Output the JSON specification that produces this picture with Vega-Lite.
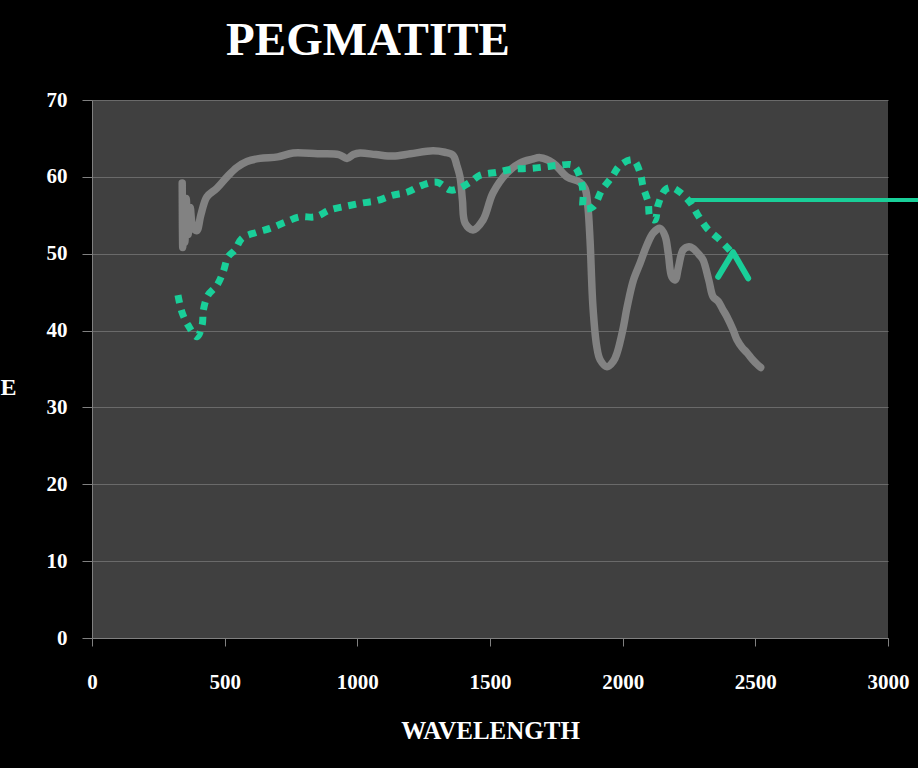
{
  "$schema": "https://vega.github.io/schema/vega-lite/v6.json",
  "width": 796,
  "height": 538,
  "autosize": {"type": "none"},
  "padding": {"left": 92, "top": 100, "right": 30, "bottom": 130},
  "background": "#000000",
  "config": {
    "view": {"fill": "#404040", "stroke": null}
  },
  "title": {
    "text": "PEGMATITE",
    "font": "Liberation Serif",
    "fontSize": 47,
    "fontWeight": "bold",
    "color": "#ffffff",
    "anchor": "middle",
    "dx": -122,
    "offset": 24
  },
  "datasets": {
    "spectrum": [
      {"i": 1, "wl": 340, "r": 59.2}, {"i": 2, "wl": 342, "r": 50.8}, {"i": 3, "wl": 345, "r": 57},
      {"i": 4, "wl": 350, "r": 51.5}, {"i": 5, "wl": 355, "r": 57.2}, {"i": 6, "wl": 362, "r": 52.5},
      {"i": 7, "wl": 370, "r": 56}, {"i": 8, "wl": 380, "r": 53.5}, {"i": 9, "wl": 395, "r": 53},
      {"i": 10, "wl": 410, "r": 55}, {"i": 11, "wl": 433, "r": 57.4}, {"i": 12, "wl": 470, "r": 58.5},
      {"i": 13, "wl": 509, "r": 60}, {"i": 14, "wl": 545, "r": 61.2}, {"i": 15, "wl": 584, "r": 62},
      {"i": 16, "wl": 633, "r": 62.4}, {"i": 17, "wl": 700, "r": 62.6}, {"i": 18, "wl": 758, "r": 63.1},
      {"i": 19, "wl": 850, "r": 63}, {"i": 20, "wl": 930, "r": 62.9}, {"i": 21, "wl": 961, "r": 62.4},
      {"i": 22, "wl": 985, "r": 62.9}, {"i": 23, "wl": 1010, "r": 63.1}, {"i": 24, "wl": 1070, "r": 62.9},
      {"i": 25, "wl": 1135, "r": 62.7}, {"i": 26, "wl": 1200, "r": 63}, {"i": 27, "wl": 1285, "r": 63.4},
      {"i": 28, "wl": 1330, "r": 63.2}, {"i": 29, "wl": 1361, "r": 62.8}, {"i": 30, "wl": 1375, "r": 61.5},
      {"i": 31, "wl": 1387, "r": 60}, {"i": 32, "wl": 1396, "r": 57}, {"i": 33, "wl": 1406, "r": 54},
      {"i": 34, "wl": 1436, "r": 53.1}, {"i": 35, "wl": 1474, "r": 54.4}, {"i": 36, "wl": 1511, "r": 57.9},
      {"i": 37, "wl": 1564, "r": 60.5}, {"i": 38, "wl": 1613, "r": 61.8}, {"i": 39, "wl": 1660, "r": 62.3},
      {"i": 40, "wl": 1689, "r": 62.5}, {"i": 41, "wl": 1738, "r": 61.8}, {"i": 42, "wl": 1790, "r": 60},
      {"i": 43, "wl": 1839, "r": 59.3}, {"i": 44, "wl": 1858, "r": 58.5}, {"i": 45, "wl": 1868, "r": 56.5},
      {"i": 46, "wl": 1877, "r": 51.8}, {"i": 47, "wl": 1888, "r": 43.1}, {"i": 48, "wl": 1902, "r": 38},
      {"i": 49, "wl": 1915, "r": 36.2}, {"i": 50, "wl": 1941, "r": 35.3}, {"i": 51, "wl": 1965, "r": 36},
      {"i": 52, "wl": 1979, "r": 37.1}, {"i": 53, "wl": 2000, "r": 40}, {"i": 54, "wl": 2017, "r": 43.1},
      {"i": 55, "wl": 2040, "r": 46.5}, {"i": 56, "wl": 2066, "r": 48.8}, {"i": 57, "wl": 2090, "r": 51},
      {"i": 58, "wl": 2115, "r": 52.7}, {"i": 59, "wl": 2141, "r": 53.3}, {"i": 60, "wl": 2160, "r": 52.3},
      {"i": 61, "wl": 2172, "r": 50}, {"i": 62, "wl": 2185, "r": 47}, {"i": 63, "wl": 2198, "r": 46.6},
      {"i": 64, "wl": 2210, "r": 48.2}, {"i": 65, "wl": 2228, "r": 50.5}, {"i": 66, "wl": 2250, "r": 50.9},
      {"i": 67, "wl": 2265, "r": 50.7}, {"i": 68, "wl": 2290, "r": 49.8}, {"i": 69, "wl": 2303, "r": 49.2},
      {"i": 70, "wl": 2325, "r": 46.5}, {"i": 71, "wl": 2341, "r": 44.4}, {"i": 72, "wl": 2360, "r": 43.8},
      {"i": 73, "wl": 2378, "r": 42.7}, {"i": 74, "wl": 2393, "r": 41.8}, {"i": 75, "wl": 2416, "r": 40.1},
      {"i": 76, "wl": 2431, "r": 38.8}, {"i": 77, "wl": 2450, "r": 37.8}, {"i": 78, "wl": 2469, "r": 37.1},
      {"i": 79, "wl": 2490, "r": 36.2}, {"i": 80, "wl": 2507, "r": 35.6}, {"i": 81, "wl": 2520, "r": 35.2}
    ],
    "sketch": [
      {"i": 1, "wl": 324, "r": 44.6}, {"i": 2, "wl": 339, "r": 42.4}, {"i": 3, "wl": 362, "r": 40.7},
      {"i": 4, "wl": 396, "r": 39.2}, {"i": 5, "wl": 415, "r": 40.7}, {"i": 6, "wl": 420, "r": 42.7},
      {"i": 7, "wl": 437, "r": 44.6}, {"i": 8, "wl": 471, "r": 45.9}, {"i": 9, "wl": 494, "r": 47.6},
      {"i": 10, "wl": 513, "r": 49.6}, {"i": 11, "wl": 539, "r": 50.5}, {"i": 12, "wl": 565, "r": 52},
      {"i": 13, "wl": 622, "r": 52.8}, {"i": 14, "wl": 671, "r": 53.3}, {"i": 15, "wl": 728, "r": 54.1},
      {"i": 16, "wl": 784, "r": 54.8}, {"i": 17, "wl": 841, "r": 54.8}, {"i": 18, "wl": 897, "r": 55.7},
      {"i": 19, "wl": 961, "r": 56.2}, {"i": 20, "wl": 1018, "r": 56.6}, {"i": 21, "wl": 1074, "r": 56.9},
      {"i": 22, "wl": 1131, "r": 57.6}, {"i": 23, "wl": 1187, "r": 58}, {"i": 24, "wl": 1244, "r": 58.9},
      {"i": 25, "wl": 1300, "r": 59.3}, {"i": 26, "wl": 1349, "r": 58.3}, {"i": 27, "wl": 1376, "r": 58.4},
      {"i": 28, "wl": 1425, "r": 59.3}, {"i": 29, "wl": 1462, "r": 60.2}, {"i": 30, "wl": 1527, "r": 60.6},
      {"i": 31, "wl": 1587, "r": 61}, {"i": 32, "wl": 1651, "r": 61.1}, {"i": 33, "wl": 1708, "r": 61.3},
      {"i": 34, "wl": 1757, "r": 61.5}, {"i": 35, "wl": 1813, "r": 61.5}, {"i": 36, "wl": 1839, "r": 60},
      {"i": 37, "wl": 1851, "r": 57.9}, {"i": 38, "wl": 1853, "r": 55.9}, {"i": 39, "wl": 1888, "r": 56.1},
      {"i": 40, "wl": 1922, "r": 58.3}, {"i": 41, "wl": 1960, "r": 60}, {"i": 42, "wl": 1990, "r": 61.5},
      {"i": 43, "wl": 2039, "r": 62.2}, {"i": 44, "wl": 2066, "r": 60.5}, {"i": 45, "wl": 2077, "r": 58.7},
      {"i": 46, "wl": 2096, "r": 56.7}, {"i": 47, "wl": 2103, "r": 54.8}, {"i": 48, "wl": 2122, "r": 54.4},
      {"i": 49, "wl": 2133, "r": 56.3}, {"i": 50, "wl": 2160, "r": 58.3}, {"i": 51, "wl": 2185, "r": 58.6},
      {"i": 52, "wl": 2216, "r": 58}, {"i": 53, "wl": 2254, "r": 56.7}, {"i": 54, "wl": 2284, "r": 55},
      {"i": 55, "wl": 2318, "r": 53.3}, {"i": 56, "wl": 2360, "r": 52}, {"i": 57, "wl": 2397, "r": 50.7},
      {"i": 58, "wl": 2420, "r": 49.8}
    ],
    "caret": [
      {"i": 1, "wl": 2360, "r": 47}, {"i": 2, "wl": 2416, "r": 50.2}, {"i": 3, "wl": 2473, "r": 46.8}
    ],
    "pointer": [
      {"i": 1, "wl": 2246, "r": 57}, {"i": 2, "wl": 3115, "r": 57}
    ]
  },
  "encoding": {
    "x": {
      "field": "wl",
      "type": "quantitative",
      "scale": {"domain": [0, 3000], "nice": false, "zero": false},
      "axis": {
        "values": [0, 500, 1000, 1500, 2000, 2500, 3000],
        "format": "d",
        "grid": false,
        "domainColor": "#808080",
        "tickColor": "#808080",
        "tickSize": 8,
        "labelColor": "#ffffff",
        "labelFont": "Liberation Serif",
        "labelFontSize": 21,
        "labelFontWeight": "bold",
        "labelBaseline": "middle",
        "labelPadding": 36,
        "labelFlush": false,
        "labelOverlap": false,
        "title": "WAVELENGTH",
        "titleColor": "#ffffff",
        "titleFont": "Liberation Serif",
        "titleFontSize": 25,
        "titleFontWeight": "bold",
        "titleBaseline": "middle",
        "titleY": 92
      }
    },
    "y": {
      "field": "r",
      "type": "quantitative",
      "scale": {"domain": [0, 70], "nice": false},
      "axis": {
        "values": [0, 10, 20, 30, 40, 50, 60, 70],
        "format": "d",
        "grid": true,
        "gridColor": "#6a6a6a",
        "gridWidth": 1,
        "domainColor": "#808080",
        "tickColor": "#808080",
        "tickSize": 10,
        "labelColor": "#ffffff",
        "labelFont": "Liberation Serif",
        "labelFontSize": 21,
        "labelFontWeight": "bold",
        "labelPadding": 15,
        "title": "E",
        "titleAngle": 0,
        "titleColor": "#ffffff",
        "titleFont": "Liberation Serif",
        "titleFontSize": 24,
        "titleFontWeight": "bold",
        "titleAlign": "center",
        "titleBaseline": "middle",
        "titleX": -84,
        "titleY": 287
      }
    },
    "order": {"field": "i", "type": "quantitative"}
  },
  "layer": [
    {
      "data": {"name": "spectrum"},
      "mark": {"type": "line", "color": "#828282", "strokeWidth": 7.5, "strokeCap": "round", "strokeJoin": "round", "interpolate": "catmull-rom"}
    },
    {
      "data": {"name": "sketch"},
      "mark": {"type": "line", "color": "#19cf99", "strokeWidth": 7, "strokeDash": [8, 7], "strokeCap": "butt", "interpolate": "catmull-rom"}
    },
    {
      "data": {"name": "caret"},
      "mark": {"type": "line", "color": "#19cf99", "strokeWidth": 6, "strokeCap": "round", "strokeJoin": "round"}
    },
    {
      "data": {"name": "pointer"},
      "mark": {"type": "line", "color": "#19cf99", "strokeWidth": 4, "strokeCap": "butt", "clip": false}
    }
  ]
}
